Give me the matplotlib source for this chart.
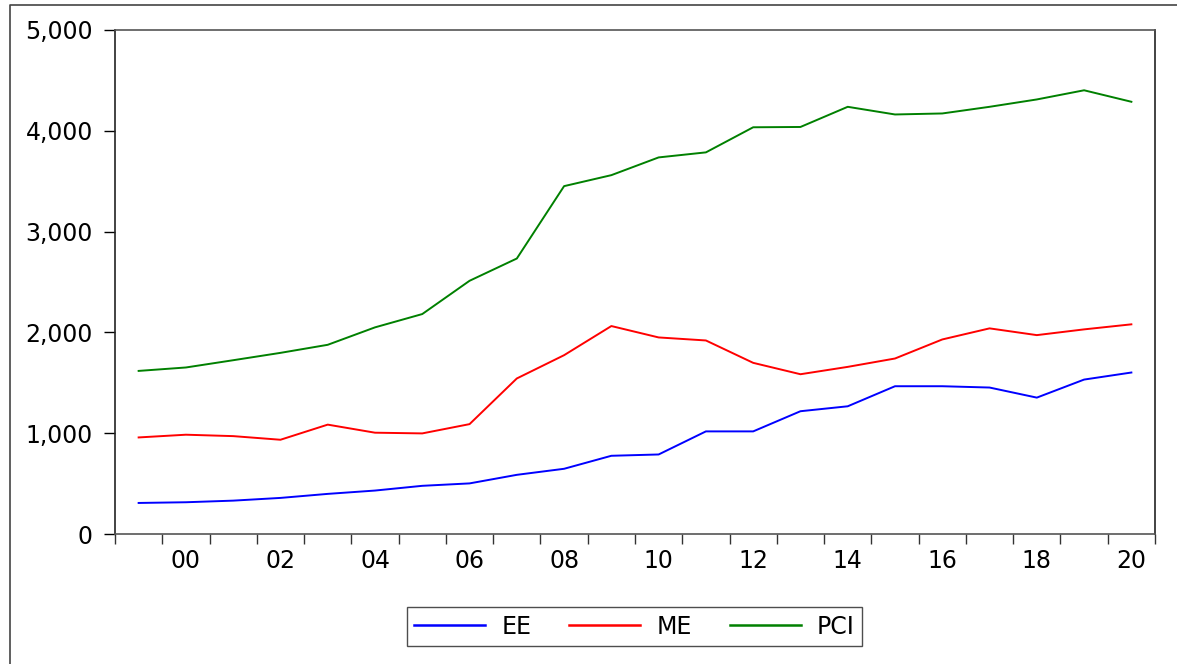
import matplotlib
matplotlib.use("Agg")
import matplotlib.pyplot as plt
from matplotlib.lines import Line2D
from matplotlib.ticker import FixedLocator, FuncFormatter

plt.rcParams["font.family"] = ["DejaVu Sans"]

years = list(range(1999, 2021))
ee = [308, 315, 331, 358, 398, 431, 478, 502, 587, 647, 776, 789, 1018, 1018,
      1218, 1267, 1466, 1466, 1453, 1353, 1532, 1602]
me = [958, 985, 971, 935, 1085, 1005, 998, 1090, 1543, 1774, 2063, 1950, 1920,
      1698, 1585, 1658, 1741, 1930, 2040, 1973, 2030, 2080]
pci = [1618, 1652, 1724, 1797, 1877, 2050, 2182, 2512, 2733, 3451, 3560, 3736,
       3786, 4035, 4038, 4238, 4162, 4172, 4238, 4311, 4402, 4288]
series = [("EE", ee, "#0000ff"), ("ME", me, "#ff0000"), ("PCI", pci, "#008000")]
label_years = list(range(2000, 2021, 2))
y_ticks = [0, 1000, 2000, 3000, 4000, 5000]

W, H = 1177, 664
FS = 17
fig = plt.figure(figsize=(W / 100, H / 100), dpi=100, facecolor="white")
ax = fig.add_axes([115 / W, 1 - 534 / H, 1040 / W, 504 / H])

for name, vals, col in series:
    ax.plot(years, vals, color=col, lw=1.4, label=name)

ax.set_xlim(years[0] - 0.5, years[-1] + 0.5)
ax.set_ylim(0, 5000)

ax.yaxis.set_major_locator(FixedLocator(y_ticks))
ax.yaxis.set_major_formatter(FuncFormatter(lambda v, p: f"{int(v):,}"))
ax.tick_params(axis="y", direction="out", length=8, width=1, pad=8,
               labelsize=FS, colors="black")

# labels at year centres, tick marks at year boundaries
ax.xaxis.set_major_locator(FixedLocator(label_years))
ax.xaxis.set_major_formatter(FuncFormatter(lambda v, p: f"{int(round(v)) % 100:02d}"))
ax.xaxis.set_minor_locator(FixedLocator([y - 0.5 for y in years] + [years[-1] + 0.5]))
ax.tick_params(axis="x", which="major", length=0, pad=11, labelsize=FS)
ax.tick_params(axis="x", which="minor", direction="out", length=7.5, width=1,
               color="#333333")

for side, s in ax.spines.items():
    s.set_color("#222222" if side in ("left", "right") else "#555555")
    s.set_linewidth(1.2)

leg = ax.legend(loc="center", bbox_to_anchor=(634.5 / W, 1 - 626.5 / H),
                bbox_transform=fig.transFigure, ncol=3, fontsize=FS,
                frameon=True, fancybox=False, edgecolor="#222222",
                handlelength=3.0, handletextpad=0.7, columnspacing=1.6,
                borderpad=0.3, borderaxespad=0)
leg.get_frame().set_linewidth(1.0)
for h in leg.get_lines():
    h.set_linewidth(1.8)

# outer frame of the graph window
fig.add_artist(Line2D([10 / W, 10 / W, 1.0], [0.0, 1 - 5 / H, 1 - 5 / H],
                      transform=fig.transFigure, color="#444444", lw=1.2))

fig.savefig("out.png", dpi=100, facecolor="white")
